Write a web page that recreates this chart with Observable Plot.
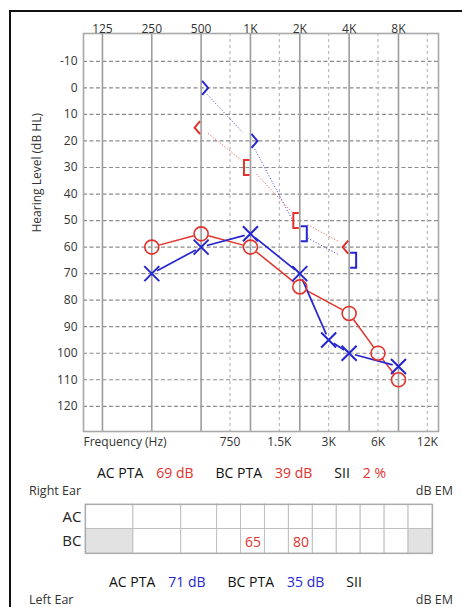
<!DOCTYPE html>
<html><head><meta charset="utf-8">
<script src="https://cdn.jsdelivr.net/npm/d3@7"></script>
<script src="https://cdn.jsdelivr.net/npm/@observablehq/plot@0.6"></script>
<style>
html,body{margin:0;padding:0;background:#fff}
body{width:462px;height:607px;overflow:hidden;position:relative;font-family:"Open Sans",sans-serif;color:#222}
#frame{position:absolute;left:9px;top:10px;width:480px;height:640px;border-left:2px solid #111;border-top:2px solid #111;box-sizing:border-box;pointer-events:none}
.abs{position:absolute;white-space:nowrap;line-height:1}
.summary{display:flex;align-items:center;transform:translateY(-50%);font-size:14px;color:#111}
.summary .v{margin-left:13px;margin-right:22px}
.ear{font-size:12.5px;color:#333;transform:translateY(-50%)}
#main,#mask{position:absolute;left:0}
</style></head>
<body>
<div id="main" style="top:0"></div>
<div id="mask" style="top:500px"></div>
<div id="frame"></div>
<script>
// ---------- data ----------
const octFreqs = [125, 250, 500, 1000, 2000, 4000, 8000];
const octLabels = ["125", "250", "500", "1K", "2K", "4K", "8K"];
const midFreqs = [750, 1500, 3000, 6000, 12000];
const midLabels = ["750", "1.5K", "3K", "6K", "12K"];
const dbTicks = [-10, 0, 10, 20, 30, 40, 50, 60, 70, 80, 90, 100, 110, 120];

const rightACFreq = [250, 500, 1000, 2000, 4000, 6000, 8000];
const rightACdB   = [60, 55, 60, 75, 85, 100, 110];
const leftACFreq  = [250, 500, 1000, 2000, 3000, 4000, 8000];
const leftACdB    = [70, 60, 55, 70, 95, 100, 105];

const rightBCFreq   = [500, 1000, 2000, 4000];
const rightBCdB     = [15, 30, 50, 60];
const rightBCMasked = [false, true, true, false];
const leftBCFreq    = [500, 1000, 2000, 4000];
const leftBCdB      = [0, 20, 55, 65];
const leftBCMasked  = [false, false, true, true];

const summaryLabels = ["AC PTA", "BC PTA", "SII"];
const rightSummary  = ["69 dB", "39 dB", "2 %"];
const leftSummary   = ["71 dB", "35 dB", ""];

const maskCols   = ["125", "250", "500", "750", "1K", "1.5K", "2K", "3K", "4K", "6K", "8K", "12K"];
const maskRows   = ["AC", "BC"];
const maskNA     = [["BC", "125"], ["BC", "12K"]];
const maskValRow = ["BC", "BC"];
const maskValCol = ["1K", "2K"];
const maskVal    = [65, 80];

// ---------- styling ----------
const RED = "#e2322c";
const BLUE = "#2626cf";
const maskColWeight = [2, 2, 1.5, 1, 1, 1, 1, 1, 1, 1, 1, 1];

const pts = (fs, ds, extra) => fs.map((f, i) => ({f, db: ds[i], masked: extra ? extra[i] : false}));
const rightAC = pts(rightACFreq, rightACdB);
const leftAC = pts(leftACFreq, leftACdB);
const rightBC = pts(rightBCFreq, rightBCdB, rightBCMasked);
const leftBC = pts(leftBCFreq, leftBCdB, leftBCMasked);

const segOpts = {x1: d => d[0].f, y1: d => d[0].db, x2: d => d[1].f, y2: d => d[1].db, bend: 0, headLength: 0, strokeLinecap: "butt"};

const symX = {draw(c) { c.moveTo(-7.5, -7.5); c.lineTo(7.5, 7.5); c.moveTo(-7.5, 7.5); c.lineTo(7.5, -7.5); }};
const symLT = {draw(c) { c.moveTo(-1, -6.5); c.lineTo(-6.5, 0); c.lineTo(-1, 6.5); }};
const symGT = {draw(c) { c.moveTo(1, -7); c.lineTo(7, 0); c.lineTo(1, 7); }};
const symLB = {draw(c) { c.moveTo(-1, -7.5); c.lineTo(-6.5, -7.5); c.lineTo(-6.5, 7.5); c.lineTo(-1, 7.5); }};
const symRB = {draw(c) { c.moveTo(1, -7.5); c.lineTo(7, -7.5); c.lineTo(7, 7.5); c.lineTo(1, 7.5); }};

const main = Plot.plot({
  width: 462, height: 455,
  marginLeft: 83, marginRight: 24, marginTop: 33, marginBottom: 24,
  style: {fontFamily: "Open Sans, sans-serif", fontSize: "12px", color: "#333", background: "transparent", overflow: "visible"},
  x: {type: "log", base: 2, domain: [95.8, 14036], axis: null},
  y: {domain: [-20.5, 129.5], reverse: true, axis: null},
  marks: [
    Plot.ruleY(dbTicks, {y: d => d, stroke: "#8c8c8c", strokeDasharray: "4,2.5", strokeWidth: 1.2}),
    Plot.ruleX(midFreqs, {x: d => d, stroke: "#b4b4b4", strokeDasharray: "3,3", strokeWidth: 1.1}),
    Plot.ruleX(octFreqs, {x: d => d, stroke: "#9c9c9c", strokeWidth: 1.6}),
    Plot.frame({stroke: "#a9a9a9", strokeWidth: 1.6}),
    // tick labels
    Plot.text(octFreqs, {x: d => d, text: (d, i) => octLabels[i], frameAnchor: "top", dy: -9, fill: "#333"}),
    Plot.text(midFreqs, {x: d => d, text: (d, i) => midLabels[i], frameAnchor: "bottom", dy: 14, fill: "#333"}),
    Plot.text(["Frequency (Hz)"], {frameAnchor: "bottom-left", textAnchor: "start", dy: 14, fill: "#333"}),
    Plot.text(dbTicks, {y: d => d, text: d => String(d), frameAnchor: "left", textAnchor: "end", dx: -6, fill: "#333"}),
    Plot.text(["Hearing Level (dB HL)"], {frameAnchor: "left", rotate: -90, dx: -46, fill: "#333"}),
    // bone conduction dotted connectors
    Plot.arrow(d3.pairs(rightBC), {...segOpts, insetStart: 9, insetEnd: 12, stroke: RED, strokeWidth: 1, strokeDasharray: "1,2", strokeOpacity: 0.9}),
    Plot.arrow(d3.pairs(leftBC), {...segOpts, insetStart: 9, insetEnd: 12, stroke: BLUE, strokeWidth: 1, strokeDasharray: "1,2", strokeOpacity: 0.9}),
    // air conduction connectors
    Plot.arrow(d3.pairs(rightAC), {...segOpts, inset: 7.5, stroke: RED, strokeWidth: 1.5}),
    Plot.arrow(d3.pairs(leftAC), {...segOpts, inset: 6, stroke: BLUE, strokeWidth: 1.7}),
    // symbols
    Plot.dot(rightAC, {x: "f", y: "db", r: 7, symbol: "circle", fill: "none", stroke: RED, strokeWidth: 1.6}),
    Plot.dot(leftAC, {x: "f", y: "db", symbol: symX, fill: "none", stroke: BLUE, strokeWidth: 2}),
    Plot.dot(rightBC.filter(d => !d.masked), {x: "f", y: "db", symbol: symLT, fill: "none", stroke: RED, strokeWidth: 2}),
    Plot.dot(rightBC.filter(d => d.masked), {x: "f", y: "db", symbol: symLB, fill: "none", stroke: RED, strokeWidth: 2}),
    Plot.dot(leftBC.filter(d => !d.masked), {x: "f", y: "db", symbol: symGT, fill: "none", stroke: BLUE, strokeWidth: 2}),
    Plot.dot(leftBC.filter(d => d.masked), {x: "f", y: "db", symbol: symRB, fill: "none", stroke: BLUE, strokeWidth: 2})
  ]
});
document.getElementById("main").append(main);

// ---------- masking table ----------
const starts = d3.cumsum([0, ...maskColWeight]);
const colIdx = new Map(maskCols.map((c, i) => [c, i]));
const rowIdx = new Map(maskRows.map((r, i) => [r, i]));
const naSet = new Set(maskNA.map(([r, c]) => r + "|" + c));
const cells = maskRows.flatMap((r, ri) => maskCols.map((c, ci) => ({
  x1: starts[ci], x2: starts[ci + 1], y1: ri, y2: ri + 1, na: naSet.has(r + "|" + c)
})));
const vals = maskVal.map((v, i) => ({v, ci: colIdx.get(maskValCol[i]), ri: rowIdx.get(maskValRow[i])}));

const mask = Plot.plot({
  width: 462, height: 58,
  marginLeft: 85, marginRight: 30, marginTop: 4, marginBottom: 5,
  style: {fontFamily: "Open Sans, sans-serif", background: "transparent", overflow: "visible"},
  x: {domain: [0, starts[starts.length - 1]], axis: null},
  y: {domain: [0, maskRows.length], reverse: true, axis: null},
  marks: [
    Plot.rect(cells, {x1: "x1", x2: "x2", y1: "y1", y2: "y2", fill: d => d.na ? "#e2e2e2" : "white", stroke: "#bfbfbf", strokeWidth: 1}),
    Plot.frame({stroke: "#ababab", strokeWidth: 1.2}),
    Plot.text(vals, {x: d => (starts[d.ci] + starts[d.ci + 1]) / 2, y: d => d.ri + 0.55, text: d => String(d.v), fill: RED, fontSize: 14}),
    Plot.text(maskRows, {y: (d, i) => i + 0.5, text: d => d, frameAnchor: "left", textAnchor: "end", dx: -4, fontSize: 15, fill: "#222"})
  ]
});
document.getElementById("mask").append(mask);

// ---------- text rows ----------
function summaryRow(vals, color, left, top) {
  const div = document.createElement("div");
  div.className = "abs summary";
  div.style.left = left + "px";
  div.style.top = top + "px";
  summaryLabels.forEach((lab, i) => {
    const k = document.createElement("span"); k.className = "k"; k.textContent = lab; div.append(k);
    const v = document.createElement("span"); v.className = "v"; v.textContent = vals[i]; v.style.color = color; div.append(v);
  });
  document.body.append(div);
}
function label(text, left, top, right) {
  const d = document.createElement("div");
  d.className = "abs ear";
  if (right) d.style.right = right + "px"; else d.style.left = left + "px";
  d.style.top = top + "px";
  d.textContent = text;
  document.body.append(d);
}
summaryRow(rightSummary, RED, 97, 473);
summaryRow(leftSummary, BLUE, 109, 582);
label("Right Ear", 29, 491);
label("dB EM", null, 491, 9);
label("Left Ear", 29, 600);
label("dB EM", null, 600, 9);
</script>
</body></html>
